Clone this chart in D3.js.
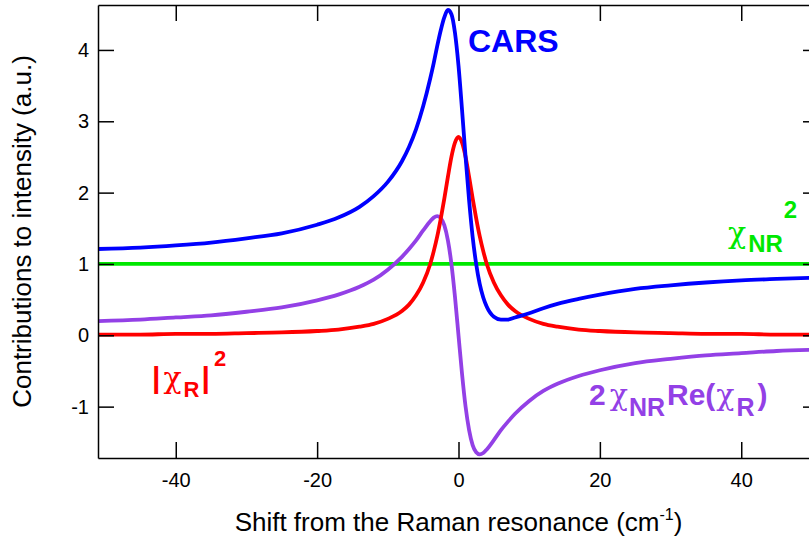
<!DOCTYPE html>
<html>
<head>
<meta charset="utf-8">
<script src="https://cdn.jsdelivr.net/npm/d3@7"></script>
<style>
body { margin: 0; background: #fff; }
svg { display: block; font-family: "Liberation Sans", Arial, sans-serif; }
.axis path, .axis line { stroke: #000; stroke-width: 1.5; }
.axis text { fill: #000; font-family: "Liberation Sans", Arial, sans-serif; }
.chi { font-family: "DejaVu Serif", serif; }
</style>
</head>
<body>
<div id="chart"></div>
<script>
var width = 809,
	height = 538,
	plotLeft = 98,
	plotRight = 819,
	plotTop = 5,
	plotBottom = 458;

// Raman shift (cm-1) of the sampled points
var shift = [-51, -45, -40, -35, -30, -25, -20, -17, -14, -12, -10, -8, -7, -6, -5, -4, -3.5, -3, -2.5, -2, -1.5, -1, -0.5,
	0, 0.5, 1, 1.5, 2, 2.5, 3, 3.5, 4, 5, 6, 7, 8, 10, 12, 14, 17, 20, 25, 30, 35, 40, 45, 51];

// |chi_R|^2
var resonant = [0.01, 0.01, 0.02, 0.02, 0.03, 0.04, 0.06, 0.08, 0.12, 0.16, 0.23, 0.34, 0.43, 0.56, 0.74, 1.00, 1.18, 1.39, 1.64, 1.92, 2.22, 2.50, 2.70,
	2.78, 2.70, 2.50, 2.22, 1.92, 1.64, 1.39, 1.18, 1.00, 0.74, 0.56, 0.43, 0.34, 0.23, 0.16, 0.12, 0.08, 0.06, 0.04, 0.03, 0.02, 0.02, 0.01, 0.01];

// 2 chi_NR Re(chi_R)
var mixed = [0.20, 0.22, 0.25, 0.28, 0.33, 0.39, 0.49, 0.57, 0.68, 0.78, 0.92, 1.10, 1.21, 1.33, 1.47, 1.60, 1.65, 1.67, 1.64, 1.54, 1.33, 1.00, 0.54,
	0, -0.54, -1.00, -1.33, -1.54, -1.64, -1.67, -1.65, -1.60, -1.47, -1.33, -1.21, -1.10, -0.92, -0.78, -0.68, -0.57, -0.49, -0.39, -0.33, -0.28, -0.25, -0.22, -0.20];

// total CARS signal
var cars = [1.21, 1.23, 1.26, 1.30, 1.36, 1.43, 1.55, 1.65, 1.80, 1.95, 2.15, 2.44, 2.64, 2.89, 3.21, 3.60, 3.82, 4.06, 4.28, 4.46, 4.56, 4.50, 4.24,
	3.78, 3.16, 2.50, 1.89, 1.38, 1.00, 0.72, 0.53, 0.40, 0.26, 0.22, 0.22, 0.25, 0.31, 0.38, 0.44, 0.51, 0.57, 0.65, 0.70, 0.74, 0.77, 0.79, 0.81];

// chi_NR^2 (flat)
var nrShift = [-51, 51];
var nrValues = [1, 1];

var xTicks = [-40, -20, 0, 20, 40];
var yTicks = [-1, 0, 1, 2, 3, 4];

var svg = d3.select("#chart").append("svg")
	.attr("width", width)
	.attr("height", height);

var x = d3.scaleLinear().domain([-51, 51]).range([plotLeft, plotRight]);
var y = d3.scaleLinear().domain([-1.72, 4.63]).range([plotBottom, plotTop]);

svg.append("clipPath")
	.attr("id", "plot-clip")
	.append("rect")
	.attr("x", plotLeft)
	.attr("y", plotTop)
	.attr("width", plotRight - plotLeft)
	.attr("height", plotBottom - plotTop);

var fmt = function(d) { return String(d); };

// curves
var line = d3.line()
	.x(function(d) { return x(d[0]); })
	.y(function(d) { return y(d[1]); })
	.curve(d3.curveMonotoneX);

var series = [
	{ xs: nrShift, ys: nrValues, color: "#00e800" },
	{ xs: shift, ys: mixed, color: "#9340e6" },
	{ xs: shift, ys: resonant, color: "#ff0000" },
	{ xs: shift, ys: cars, color: "#0000ff" }
];

svg.append("g")
	.attr("clip-path", "url(#plot-clip)")
	.selectAll("path")
	.data(series)
	.enter()
	.append("path")
	.attr("fill", "none")
	.attr("stroke", function(d) { return d.color; })
	.attr("stroke-width", 3.8)
	.attr("stroke-linejoin", "round")
	.attr("d", function(d) {
		return line(d.xs.map(function(v, i) { return [v, d.ys[i]]; }));
	});

// axes, ticks pointing inward on all four sides
svg.append("g")
	.attr("class", "axis")
	.attr("transform", "translate(0," + plotBottom + ")")
	.call(d3.axisBottom(x).tickValues(xTicks).tickFormat(fmt).tickSizeInner(-16).tickSizeOuter(0).tickPadding(15))
	.attr("font-size", 20);

svg.append("g")
	.attr("class", "axis")
	.attr("transform", "translate(0," + plotTop + ")")
	.call(d3.axisTop(x).tickValues(xTicks).tickFormat("").tickSizeInner(-16).tickSizeOuter(0));

svg.append("g")
	.attr("class", "axis")
	.attr("transform", "translate(" + plotLeft + ",0)")
	.call(d3.axisLeft(y).tickValues(yTicks).tickFormat(fmt).tickSizeInner(-16).tickSizeOuter(0).tickPadding(9))
	.attr("font-size", 20);

svg.append("g")
	.attr("class", "axis")
	.attr("transform", "translate(" + plotRight + ",0)")
	.call(d3.axisRight(y).tickValues(yTicks).tickFormat("").tickSizeInner(-16).tickSizeOuter(0));

// axis titles
var xTitle = svg.append("text")
	.attr("x", (plotLeft + plotRight) / 2)
	.attr("y", 531)
	.attr("text-anchor", "middle")
	.style("font-size", "26px");
xTitle.append("tspan").text("Shift from the Raman resonance (cm");
xTitle.append("tspan").attr("dy", -11).style("font-size", "16px").text("-1");
xTitle.append("tspan").attr("dy", 11).text(")");

svg.append("text")
	.attr("transform", "translate(31," + ((plotTop + plotBottom) / 2) + ") rotate(-90)")
	.attr("text-anchor", "middle")
	.style("font-size", "26px")
	.text("Contributions to intensity (a.u.)");

// curve labels
function label(px, py, color, parts) {
	var t = svg.append("text")
		.attr("x", px)
		.attr("y", py)
		.attr("fill", color);
	parts.forEach(function(p) {
		t.append("tspan")
			.attr("class", p.s === "χ" ? "chi" : null)
			.attr("dx", p.dx || 0)
			.attr("dy", p.dy || 0)
			.style("font-size", p.size + "px")
			.style("font-weight", p.bold ? "bold" : "normal")
			.text(p.s);
	});
}

label(468, 52, "#0000ff", [{ s: "CARS", size: 32, bold: true }]);

label(728, 243, "#00e800", [
	{ s: "χ", size: 30 },
	{ s: "NR", size: 24, bold: true, dy: 9, dx: 2 },
	{ s: "2", size: 24, bold: true, dy: -34, dx: 1 }
]);

label(152, 388, "#ff0000", [
	{ s: "|", size: 30, bold: true },
	{ s: "χ", size: 30, dx: 3 },
	{ s: "R", size: 22, bold: true, dy: 9, dx: 2 },
	{ s: "|", size: 30, bold: true, dy: -9, dx: 2 },
	{ s: "2", size: 22, bold: true, dy: -22, dx: 4 }
]);

label(589, 405, "#9340e6", [
	{ s: "2", size: 30, bold: true },
	{ s: "χ", size: 30, dx: 4 },
	{ s: "NR", size: 25, bold: true, dy: 11, dx: 1 },
	{ s: "Re(", size: 30, bold: true, dy: -11, dx: 2 },
	{ s: "χ", size: 30, dx: 1 },
	{ s: "R", size: 25, bold: true, dy: 11, dx: 2 },
	{ s: ")", size: 30, bold: true, dy: -11, dx: 3 }
]);
</script>
</body>
</html>
